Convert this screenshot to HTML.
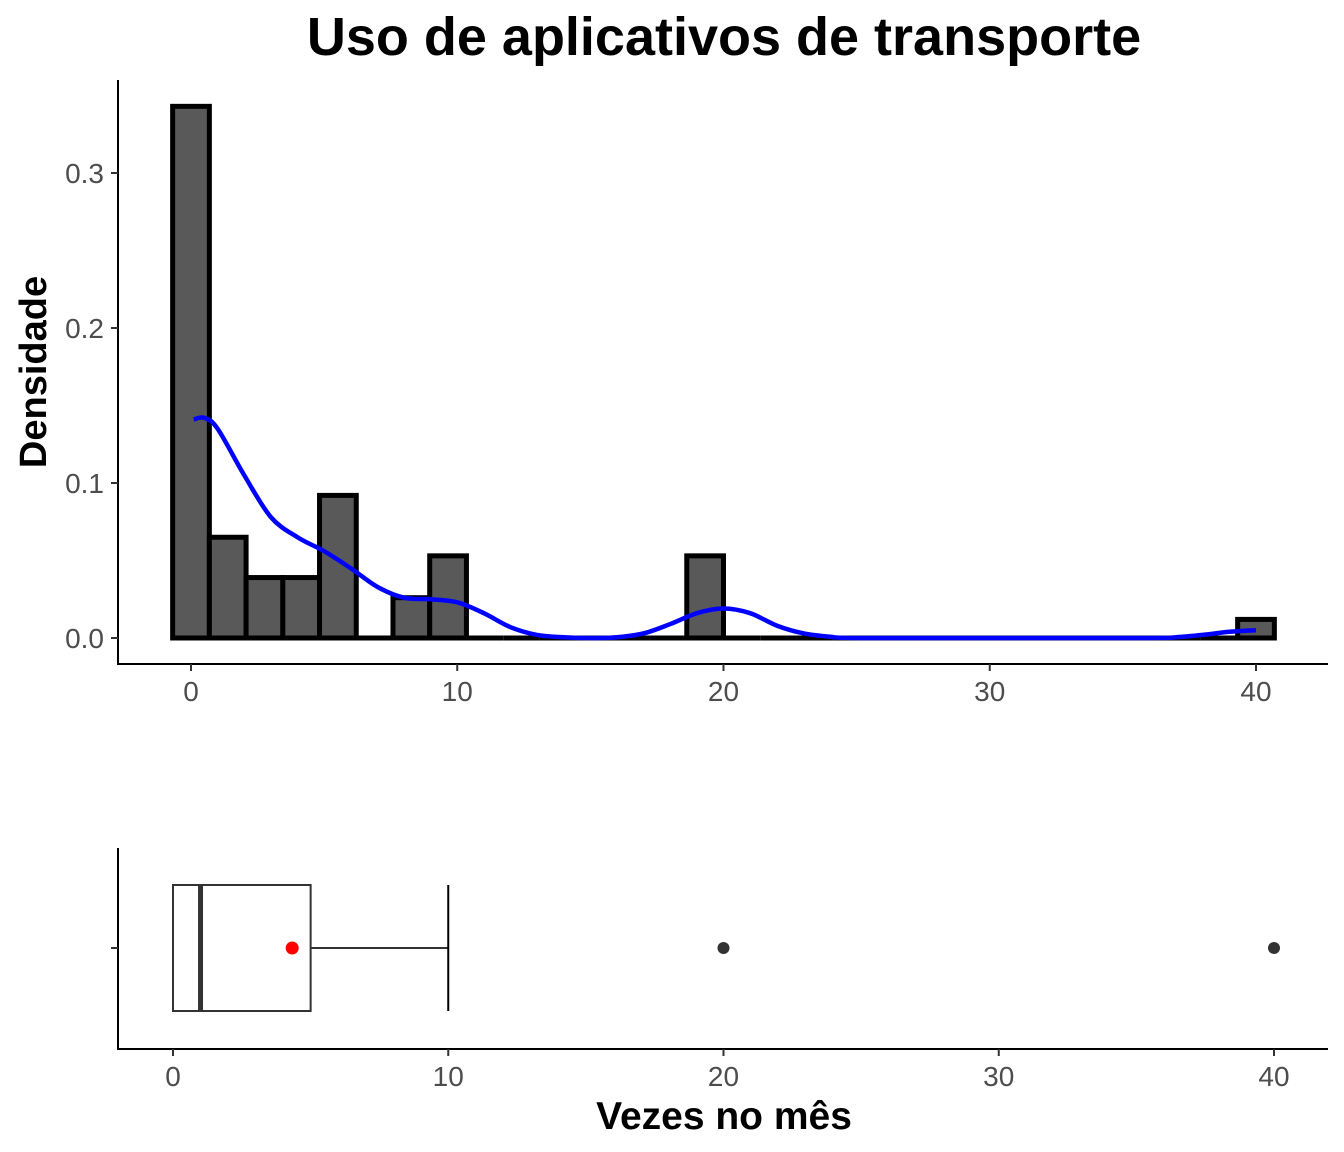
<!DOCTYPE html>
<html><head><meta charset="utf-8"><style>
body{margin:0;background:#fff}
svg{display:block;font-family:"Liberation Sans",sans-serif}
</style></head><body>
<svg id="c" width="1344" height="1152">
<text x="724" y="55" text-anchor="middle" font-size="54" font-weight="bold">Uso de aplicativos de transporte</text>
<text transform="translate(46,372) rotate(-90)" text-anchor="middle" font-size="38" font-weight="bold">Densidade</text>
<text x="724" y="1129" text-anchor="middle" font-size="39" font-weight="bold">Vezes no mês</text>
<g id="topg"></g><g id="botg"></g>
</svg>
<script>
const binCenters=[0,1.379,2.759,4.138,5.517,6.897,8.276,9.655,11.034,12.414,13.793,15.172,16.552,17.931,19.31,20.69,22.069,23.448,24.828,26.207,27.586,28.966,30.345,31.724,33.103,34.483,35.862,37.241,38.621,40];
const binDensity=[0.343,0.065,0.039,0.039,0.092,0,0.026,0.053,0,0,0,0,0,0,0.053,0,0,0,0,0,0,0,0,0,0,0,0,0,0,0.012];
const densX=[0.1,0.5,1,2,3,4,5,6,7,8,9,10,11,12,13,14,15,16,17,18,19,20,21,22,23,24,25,30,36,37,38,39,40];
const densY=[0.141,0.142,0.135,0.105,0.078,0.065,0.056,0.045,0.033,0.026,0.025,0.023,0.016,0.007,0.002,0.0005,0,0.0005,0.003,0.009,0.016,0.019,0.016,0.008,0.003,0.0008,0,0,0,0.0005,0.002,0.004,0.005];
const xTicks=[0,10,20,30,40];
const yTicks=[0,0.1,0.2,0.3];
const yTickLabels=["0.0","0.1","0.2","0.3"];
const boxStats={min:0,q1:0,median:1,q3:5,max:10,mean:4.33};
const outliers=[20,40];
const binW=40/29;
const NS="http://www.w3.org/2000/svg";
function mk(p,t,a){const e=document.createElementNS(NS,t);for(const k in a)e.setAttribute(k,a[k]);p.appendChild(e);return e;}
const topG=document.getElementById('topg'),botG=document.getElementById('botg');
const x1=v=>191+v*26.625, y1=v=>638-v*1550;
const x2=v=>173+v*27.525;
let e=mk(topG,'line',{x1:118,y1:80,x2:118,y2:664,stroke:'#000','stroke-width':2});


e=mk(topG,'line',{x1:117,y1:664,x2:1328,y2:664,stroke:'#000','stroke-width':2});


yTicks.forEach((t,i)=>{const y=y1(t);
 let a=mk(topG,'line',{x1:111,y1:y,x2:118,y2:y,stroke:'#333','stroke-width':2});
 
 
 a=mk(topG,'text',{x:104,y:y+10,'text-anchor':'end','font-size':28,fill:'#4d4d4d'});a.textContent=yTickLabels[i];
 
 });
xTicks.forEach(t=>{const x=x1(t);
 let a=mk(topG,'line',{x1:x,y1:664,x2:x,y2:671,stroke:'#333','stroke-width':2});
 
 
 a=mk(topG,'text',{x:x,y:701,'text-anchor':'middle','font-size':28,fill:'#4d4d4d'});a.textContent=t;
 
 });
binCenters.forEach((c,i)=>{const l=x1(c-binW/2),r=x1(c+binW/2),t=y1(binDensity[i]);
 let a;
 if(binDensity[i]>0){a=mk(topG,'rect',{x:l,y:t,width:r-l,height:y1(0)-t,fill:'#595959',stroke:'#000','stroke-width':5});}
 else{a=mk(topG,'line',{x1:l,y1:y1(0),x2:r,y2:y1(0),stroke:'#000','stroke-width':5});}
 
 });
const pts=densX.map((v,i)=>[x1(v),y1(densY[i])]);
let d='M'+pts[0][0]+','+pts[0][1];
for(let i=0;i<pts.length-1;i++){const p0=pts[i-1]||pts[i],p1=pts[i],p2=pts[i+1],p3=pts[i+2]||p2;
 d+=` C${p1[0]+(p2[0]-p0[0])/6},${p1[1]+(p2[1]-p0[1])/6} ${p2[0]-(p3[0]-p1[0])/6},${p2[1]-(p3[1]-p1[1])/6} ${p2[0]},${p2[1]}`;}
e=mk(topG,'path',{d:d,fill:'none',stroke:'#0000ff','stroke-width':4.5});


e=mk(botG,'line',{x1:118,y1:848,x2:118,y2:1049,stroke:'#000','stroke-width':2});


e=mk(botG,'line',{x1:117,y1:1049,x2:1328,y2:1049,stroke:'#000','stroke-width':2});


e=mk(botG,'line',{x1:111,y1:948,x2:118,y2:948,stroke:'#333','stroke-width':2});


xTicks.forEach(t=>{const x=x2(t);
 let a=mk(botG,'line',{x1:x,y1:1049,x2:x,y2:1056,stroke:'#333','stroke-width':2});
 
 
 a=mk(botG,'text',{x:x,y:1086,'text-anchor':'middle','font-size':28,fill:'#4d4d4d'});a.textContent=t;
 
 });
e=mk(botG,'line',{x1:x2(boxStats.q3),y1:948,x2:x2(boxStats.max),y2:948,stroke:'#333','stroke-width':2});


e=mk(botG,'line',{x1:x2(boxStats.max),y1:885,x2:x2(boxStats.max),y2:1011,stroke:'#000','stroke-width':2});


e=mk(botG,'rect',{x:x2(boxStats.q1),y:885,width:x2(boxStats.q3)-x2(boxStats.q1),height:126,fill:'#fff',stroke:'#333','stroke-width':2});


e=mk(botG,'line',{x1:x2(boxStats.median),y1:885,x2:x2(boxStats.median),y2:1011,stroke:'#333','stroke-width':5});


e=mk(botG,'circle',{cx:x2(boxStats.mean),cy:948,r:6.5,fill:'#ff0000'});


outliers.forEach(o=>{const a=mk(botG,'circle',{cx:x2(o),cy:948,r:6,fill:'#333'});
 
 });
</script>
</body></html>
